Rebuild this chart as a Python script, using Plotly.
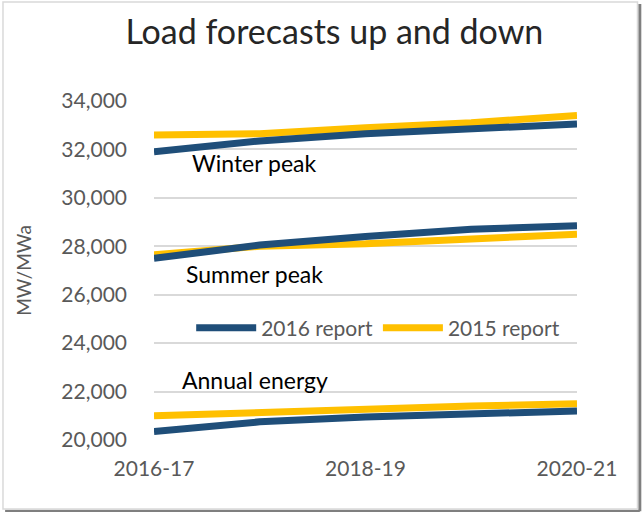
import plotly.graph_objects as go

# forecast years (x categories)
years = ["2016-17", "2017-18", "2018-19", "2019-20", "2020-21"]
shownYears = ["2016-17", "2018-19", "2020-21"]

# MW / MWa
winter2016 = [31900, 32350, 32650, 32850, 33050]
winter2015 = [32600, 32650, 32900, 33100, 33400]
summer2016 = [27500, 28050, 28400, 28700, 28850]
summer2015 = [27650, 28000, 28100, 28300, 28500]
energy2016 = [20350, 20750, 20950, 21100, 21200]
energy2015 = [21000, 21150, 21300, 21400, 21500]

yTicks = [20000, 22000, 24000, 26000, 28000, 30000, 32000, 34000]

blue = "#1F4E79"
gold = "#FFC000"
font = "Lato"

fig = go.Figure()

groups = [(winter2016, winter2015), (summer2016, summer2015), (energy2016, energy2015)]
for i, (new, old) in enumerate(groups):
    fig.add_trace(go.Scatter(x=years, y=old, mode="lines", name="2015 report",
                             line=dict(color=gold, width=7), legendgroup="2015",
                             showlegend=(i == 0), legendrank=2))
    fig.add_trace(go.Scatter(x=years, y=new, mode="lines", name="2016 report",
                             line=dict(color=blue, width=7), legendgroup="2016",
                             showlegend=(i == 0), legendrank=1))

labels = [("Winter peak", 31450), ("Summer peak", 26850), ("Annual energy", 22480)]
for text, yv in labels:
    fig.add_annotation(x="2017-18", y=yv, text=text, showarrow=False, xshift=-5,
                       font=dict(family=font, size=23, color="#000000"))

# chart border with a small shadow
fig.add_shape(type="line", xref="paper", yref="paper", x0=1.1485, x1=1.1485, y0=-0.21, y1=1.286,
              line=dict(color="#7f7f7f", width=3))
fig.add_shape(type="line", xref="paper", yref="paper", x0=-0.352, x1=1.1485, y0=-0.21, y1=-0.21,
              line=dict(color="#7f7f7f", width=3))
fig.add_shape(type="rect", xref="paper", yref="paper", x0=-0.357, x1=1.143, y0=-0.2035, y1=1.292,
              line=dict(color="#d9d9d9", width=1.5))

fig.update_layout(
    width=643, height=512,
    margin=dict(l=154, r=66, t=101, b=72),
    paper_bgcolor="white", plot_bgcolor="white",
    font=dict(family=font, color="#595959"),
    title=dict(text="Load forecasts up and down", x=0.52, xanchor="center", y=0.937, yanchor="middle",
               font=dict(family=font, size=34, color="#262626")),
    legend=dict(orientation="h", x=0.53, xanchor="center", y=0.33, yanchor="middle",
                font=dict(family=font, size=21, color="#595959"), bgcolor="rgba(0,0,0,0)",
                itemwidth=60, traceorder="normal"),
    showlegend=True,
)

fig.update_xaxes(type="category", tickvals=shownYears, ticktext=shownYears, showgrid=False,
                 showline=False, ticks="", tickfont=dict(size=21, color="#595959"), range=[0, 4],
                 ticklabelstandoff=14)
fig.update_yaxes(range=[20000, 34000], tickvals=yTicks, tickformat=",", showgrid=True,
                 gridcolor="#d9d9d9", gridwidth=1.5, zeroline=False, showline=False,
                 tickfont=dict(size=21, color="#595959"), ticklabelstandoff=26,
                 title=dict(text="MW/MWa", font=dict(size=19, color="#595959"), standoff=24))

fig.write_html("out.html", config={"displayModeBar": False},
               post_script="document.body.style.margin='0';")
